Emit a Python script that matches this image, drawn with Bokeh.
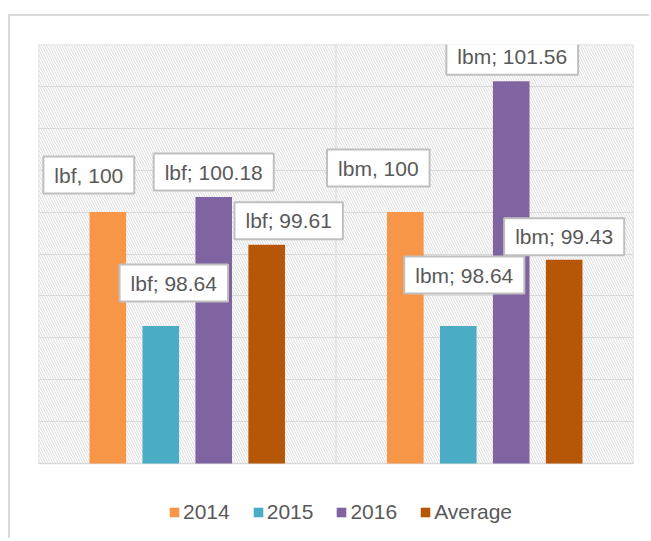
from bokeh.plotting import figure
from bokeh.models import (ColumnDataSource, Range1d, FixedTicker, Legend, LegendItem)
from bokeh.core.properties import value
from bokeh.embed import file_html
from bokeh.resources import INLINE

# ---- data ----
groups = ["lbf", "lbm"]
series = ["2014", "2015", "2016", "Average"]
lbf_values = [100, 98.64, 100.18, 99.61]
lbm_values = [100, 98.64, 101.56, 99.43]
separators = [", ", "; ", "; ", "; "]
colors = ["#F79646", "#4BACC6", "#8064A2", "#B65708"]
y_ticks = [97, 97.5, 98, 98.5, 99, 99.5, 100, 100.5, 101, 101.5, 102]

# label placement offsets in screen px (relative to bar top centre)
label_dx = [[-19, 13, 0, 22], [-27, 6, 1, 0]]
label_dy = [[-37, -43, -25, -24], [-44, -51, -25, -23]]

FONT = "Liberation Sans"
GRID = "#d9d9d9"
TEXT = "#595959"

# layout (px)
W, H = 641, 524
TOP, LEFT, RIGHT = 28, 28, 18
plot_h = 419            # height of the hatched plot area
below_h = H - TOP - plot_h
px_per_unit = plot_h / (y_ticks[-1] - y_ticks[0])
y_min = y_ticks[0] - below_h / px_per_unit

p = figure(width=W, height=H, output_backend="svg", toolbar_location=None,
           x_range=Range1d(0, len(groups)), y_range=Range1d(y_min, y_ticks[-1]),
           min_border_left=LEFT, min_border_right=RIGHT, min_border_top=TOP,
           min_border_bottom=0)
p.styles = {"border-top": "2px solid #d9d9d9", "border-left": "2px solid #d9d9d9",
            "margin-top": "14px", "margin-left": "8px"}
p.axis.visible = False
p.outline_line_color = None
p.background_fill_color = "white"
p.border_fill_color = "white"

# hatched plot area with its border
p.quad(left=[0], right=[len(groups)], bottom=[y_ticks[0]], top=[y_ticks[-1]],
       fill_color="white", line_color=GRID, line_width=1.5, hatch_pattern="\\",
       hatch_color="#dcdcdc", hatch_scale=5, hatch_weight=1, level="image")

p.xgrid.visible = False
p.ygrid.ticker = FixedTicker(ticks=y_ticks)
p.ygrid.grid_line_color = GRID
p.ygrid.grid_line_width = 1

# divider between categories
bounds = list(range(1, len(groups)))
p.segment(x0=bounds, x1=bounds, y0=[y_ticks[0]] * len(bounds),
          y1=[y_ticks[-1]] * len(bounds), line_color=GRID, line_width=1,
          level="underlay")

step = 0.178
width = 0.123
all_values = [lbf_values, lbm_values]
items = []
lx, ly, lt, ldx, ldy = [], [], [], [], []
for k, s in enumerate(series):
    xs = [gi + 0.5 + (k - 1.5) * step for gi in range(len(groups))]
    tops = [all_values[gi][k] for gi in range(len(groups))]
    src = ColumnDataSource(dict(x=xs, top=tops))
    r = p.vbar(x="x", top="top", bottom=y_ticks[0], width=width, source=src,
               fill_color=colors[k], line_color=None)
    items.append(LegendItem(label=s, renderers=[r]))
    for gi, g in enumerate(groups):
        lx.append(xs[gi])
        ly.append(tops[gi])
        lt.append(f"{g}{separators[k]}{tops[gi]:g}")
        ldx.append(label_dx[gi][k])
        ldy.append(label_dy[gi][k])

lsrc = ColumnDataSource(dict(x=lx, y=ly, text=lt, dx=ldx, dy=ldy))
p.text(x="x", y="y", text="text", source=lsrc, x_offset="dx", y_offset="dy",
       text_font=value(FONT), text_font_size="21px", text_color=TEXT,
       text_align="center", text_baseline="middle",
       background_fill_color="white", border_line_color="#bfbfbf",
       border_line_width=2, padding=(11, 7))

legend = Legend(items=items, orientation="horizontal", location=(130, 16),
                label_text_font=FONT, label_text_font_size="21px",
                label_text_color=TEXT, glyph_width=12, glyph_height=12,
                label_standoff=3, spacing=22, padding=0, margin=0,
                border_line_color=None, background_fill_alpha=0)
p.add_layout(legend, "center")

open("out.html", "w").write(file_html(p, INLINE))
